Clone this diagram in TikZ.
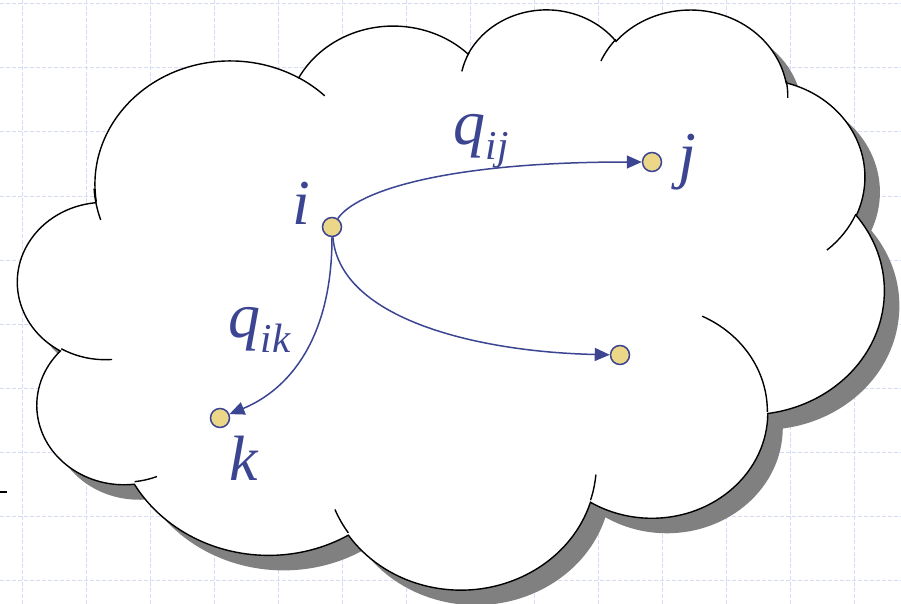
\documentclass[tikz,border=0pt]{standalone}
\usepackage{fontspec}
\setmainfont{Liberation Serif}
\usetikzlibrary{arrows.meta, shadows}
\definecolor{ink}{HTML}{3C4592}
\definecolor{statefill}{HTML}{EBD787}
\definecolor{shadowgray}{HTML}{808080}
\definecolor{gridblue}{HTML}{D6DCF7}
\newcommand{\idx}[1]{\raisebox{-14.6pt}{\fontsize{41}{45}\selectfont #1}}
% one lobe of the cloud: wR/hR/start/sweep, angles measured as seen on the ellipse
\tikzset{lobe/.code args={#1/#2/#3/#4}{%
    \pgfmathsetmacro\lobeS{atan2((#1)*sin(#3),(#2)*cos(#3))}%
    \pgfmathsetmacro\lobeE{atan2((#1)*sin(#3+#4),(#2)*cos(#3+#4))}%
    \pgfmathsetmacro\lobeE{\lobeS+mod(\lobeE-\lobeS+720,360)}%
    \tikzset{start angle/.expanded=\lobeS, end angle/.expanded=\lobeE,
             x radius=#1, y radius=#2}}}

\begin{document}
\begin{tikzpicture}[
    x=1pt, y=1pt,
    gridline/.style={draw=gridblue, line width=1pt, dash pattern=on 4pt off 2pt},
    cloud/.style={draw=black, fill=white, line width=1.4pt,
                  drop shadow={shadow xshift=15pt, shadow yshift=-15pt, opacity=1, fill=shadowgray}},
    puff/.style={draw=black, line width=1.4pt},
    state/.style={circle, draw=ink, fill=statefill, line width=1.5pt,
                  minimum size=19pt, inner sep=0pt},
    lbl/.style={text=ink, inner sep=0pt, anchor=base west,
                font=\fontsize{64}{70}\selectfont\itshape},
    arrow/.style={-{Triangle[length=15pt, width=13pt]}, line width=1.5pt, draw=ink}
  ]
    \useasboundingbox (0,0) rectangle (901,-604);
    \fill[white] (0,0) rectangle (901,-604);

    % background grid
    \foreach \gx in {0,...,13}
      \draw[gridline] (22+64*\gx,0) -- (22+64*\gx,-604);
    \foreach \gy in {0,...,9}
      \draw[gridline] (0,-4-64*\gy) -- (901,-4-64*\gy);
    \draw[line width=1.6pt] (0,-492) -- (6.5,-492);

    % cloud
    \begin{scope}[shift={(18pt,-8pt)}, x=2.00463pt, y=-1.34259pt]
      \draw[cloud] (39.00,143.70)
        arc[lobe=67.53/91.90/-190.487/123.781]
        arc[lobe=53.33/72.67/-144.102/89.945]
        arc[lobe=43.65/59.45/-145.808/99.723]
        arc[lobe=48.57/65.95/-130.986/117.242]
        arc[lobe=53.33/72.73/-78.709/109.027]
        arc[lobe=67.75/92.20/-46.267/130.269]
        arc[lobe=57.85/78.67/0.625/114.033]
        arc[lobe=67.52/92.15/22.452/115.173]
        arc[lobe=77.20/105.43/66.243/75.711]
        arc[lobe=43.60/59.18/-274.942/146.736]
        arc[lobe=43.45/59.45/-246.829/152.519] -- cycle;
      \draw[puff]
        (46.93,261.77) arc[lobe=43.45/59.45/86.742/26.430]
        (69.28,348.99) arc[lobe=43.60/59.18/73.610/11.447]
        (164.78,390.90) arc[lobe=67.52/92.15/137.624/14.081]
        (288.27,347.51) arc[lobe=67.52/92.15/6.453/15.998]
        (341.29,229.54) arc[lobe=57.85/78.67/-70.292/70.917]
        (417.98,153.54) arc[lobe=53.33/72.73/30.318/27.752]
        (383.24,54.26) arc[lobe=48.57/65.95/-13.744/14.859]
        (290.78,39.52) arc[lobe=48.57/65.95/-149.181/18.195]
        (221.41,47.20) arc[lobe=43.65/59.45/-163.494/17.686]
        (140.00,51.92) arc[lobe=67.53/91.90/-66.707/12.319]
        (41.27,157.89) arc[lobe=67.53/91.90/155.646/19.564];
    \end{scope}

    % states
    \node[state] (i) at (332,-227) {};
    \node[state] (j) at (652,-162) {};
    \node[state] (k) at (220,-418) {};
    \node[state] (other) at (620,-355) {};

    \node[lbl] (ilbl) at (291.9,-224.3) {i};
    \node[lbl] (jlbl) at (677.9,-176.8) {j};
    \node[lbl] (klbl) at (229.5,-480) {k};
    \node[lbl] (qij) at (453.4,-144.6) {q\idx{ij}};
    \node[lbl] (qik) at (228.4,-337.5) {q\idx{ik}};

    % transitions
    \draw[arrow] (i) .. controls +(24,35) and +(-210,0) .. (j);
    \draw[arrow] (i) .. controls +(8,-93) and +(-140,3) .. (other);
    \draw[arrow] (i) .. controls +(0,-113) and +(68,28) .. (k);
\end{tikzpicture}
\end{document}
